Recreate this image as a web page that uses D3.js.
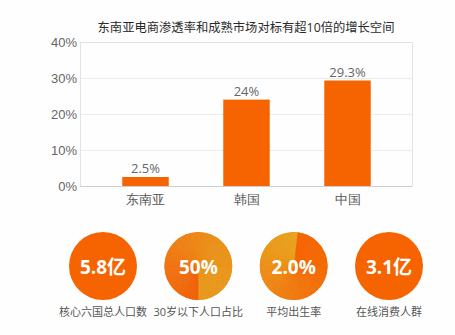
<!DOCTYPE html>
<html>
<head>
<meta charset="utf-8">
<script src="https://cdn.jsdelivr.net/npm/d3@7/dist/d3.min.js"></script>
<style>
  html, body { margin: 0; padding: 0; background: #fefefe; }
  svg { display: block; font-family: "Open Sans", "Noto Sans CJK SC", sans-serif; }
</style>
</head>
<body>
<svg id="chart" width="455" height="335"></svg>
<script>
// Bar chart: e-commerce penetration
const title = "东南亚电商渗透率和成熟市场对标有超10倍的增长空间";
const categories = ["东南亚", "韩国", "中国"];
const penetration = [2.5, 24, 29.3];
const yTicks = [0, 10, 20, 30, 40];

// Key figures shown as round badges
const badgeValues = ["5.8亿", "50%", "2.0%", "3.1亿"];
const badgeLabels = ["核心六国总人口数", "30岁以下人口占比", "平均出生率", "在线消费人群"];

const orange = "#f56400";

const svg = d3.select("#chart");

const plot = { left: 80, right: 412, top: 42, bottom: 186 };

const y = d3.scaleLinear().domain([0, 40]).range([plot.bottom, plot.top]);
const x = d3.scaleBand().domain(categories).range([95, 398])
  .paddingInner(0.54).paddingOuter(0.27);

// title
svg.append("text")
  .attr("x", (plot.left + plot.right) / 2)
  .attr("y", 27)
  .attr("text-anchor", "middle")
  .attr("dominant-baseline", "central")
  .attr("font-size", "12.3px")
  .attr("fill", "#2a2a2a")
  .text(title);

// horizontal grid
svg.append("g").selectAll("line")
  .data(yTicks.filter(t => t > 0 && t < 40))
  .join("line")
  .attr("x1", plot.left).attr("x2", plot.right)
  .attr("y1", d => y(d) + 0.5).attr("y2", d => y(d) + 0.5)
  .attr("stroke", "#ececec");

// frame
svg.append("rect")
  .attr("x", plot.left + 0.5).attr("y", plot.top + 0.5)
  .attr("width", plot.right - plot.left).attr("height", plot.bottom - plot.top)
  .attr("fill", "none").attr("stroke", "#e2e2e2");

// y axis labels
const yAxis = svg.append("g")
  .attr("transform", `translate(${plot.left},0)`)
  .call(d3.axisLeft(y).tickValues(yTicks).tickFormat(d => d + "%").tickSize(0).tickPadding(3));
yAxis.select(".domain").remove();
yAxis.selectAll("text")
  .attr("font-size", "13px")
  .attr("font-family", null)
  .attr("fill", "#666");

// bars
svg.append("g").selectAll("rect")
  .data(penetration)
  .join("rect")
  .attr("x", (d, i) => x(categories[i]))
  .attr("width", x.bandwidth())
  .attr("y", d => y(d))
  .attr("height", d => y(0) - y(d))
  .attr("fill", orange);

// value labels
svg.append("g").selectAll("text")
  .data(penetration)
  .join("text")
  .attr("x", (d, i) => x(categories[i]) + x.bandwidth() / 2)
  .attr("y", d => y(d) - 4)
  .attr("text-anchor", "middle")
  .attr("font-size", "13px")
  .attr("fill", "#666")
  .text(d => d + "%");

// x axis
const xAxis = svg.append("g")
  .attr("transform", `translate(0,${plot.bottom})`)
  .call(d3.axisBottom(x).tickSize(0).tickPadding(0));
xAxis.select(".domain")
  .attr("d", `M${plot.left},0.5H${plot.right}`)
  .attr("stroke", "#cfcfcf");
xAxis.selectAll("text")
  .attr("y", 14)
  .attr("dy", null)
  .attr("dominant-baseline", "central")
  .attr("font-size", "12.5px")
  .attr("font-family", null)
  .attr("fill", "#555");

// badges
const bx = d3.scalePoint().domain(badgeLabels).range([103, 389]);
const badgeY = 266, badgeR = 34;

// sweep fills: [start angle in degrees, colour stops clockwise]
const sweeps = [
  null,
  [180, ["#f06008", "#f07010", "#ef8014", "#ea9019", "#e9961b", "#e8981c"]],
  [7, ["#f56400", "#f56700", "#f36e08", "#f07a10", "#ee8a14", "#eb9819", "#e8a21e"]],
  null
];

const arc = d3.arc().innerRadius(0).outerRadius(badgeR);

svg.append("defs").selectAll("clipPath")
  .data(badgeLabels)
  .join("clipPath")
  .attr("id", (d, i) => "badge-clip-" + i)
  .append("circle").attr("r", badgeR);

const badges = svg.append("g").selectAll("g")
  .data(badgeLabels)
  .join("g")
  .attr("transform", d => `translate(${bx(d)},${badgeY})`);

badges.each(function(d, i) {
  const g = d3.select(this);
  const sw = sweeps[i];
  if (!sw) {
    g.append("circle").attr("r", badgeR).attr("fill", orange);
  } else {
    // conic colour sweep built from thin wedges, stroked to hide seams
    const n = 120;
    const a0 = sw[0] * Math.PI / 180;
    const col = d3.piecewise(d3.interpolateRgb, sw[1]);
    const segs = d3.range(n).map(k => ({
      startAngle: a0 + k / n * 2 * Math.PI,
      endAngle: a0 + (k + 1) / n * 2 * Math.PI,
      c: col((k + 0.5) / n)
    }));
    const wedge = g.append("g").attr("clip-path", `url(#badge-clip-${i})`);
    wedge.selectAll("path").data(segs).join("path")
      .attr("d", arc)
      .attr("fill", s => s.c)
      .attr("stroke", s => s.c)
      .attr("stroke-width", 0.8)
      .attr("stroke-linejoin", "round");
    // keep the sharp edge at the start of the sweep
    const first = segs[0];
    wedge.append("path")
      .attr("d", arc({ startAngle: first.startAngle, endAngle: first.endAngle }))
      .attr("fill", first.c);
  }
  g.append("text")
    .attr("y", 1)
    .attr("text-anchor", "middle")
    .attr("dominant-baseline", "central")
    .attr("font-size", "19px")
    .attr("font-weight", "bold")
    .attr("fill", "#fff")
    .text(badgeValues[i]);
  g.append("text")
    .attr("y", 45)
    .attr("text-anchor", "middle")
    .attr("dominant-baseline", "central")
    .attr("font-size", "11px")
    .attr("fill", "#555")
    .text(d);
});
</script>
</body>
</html>
